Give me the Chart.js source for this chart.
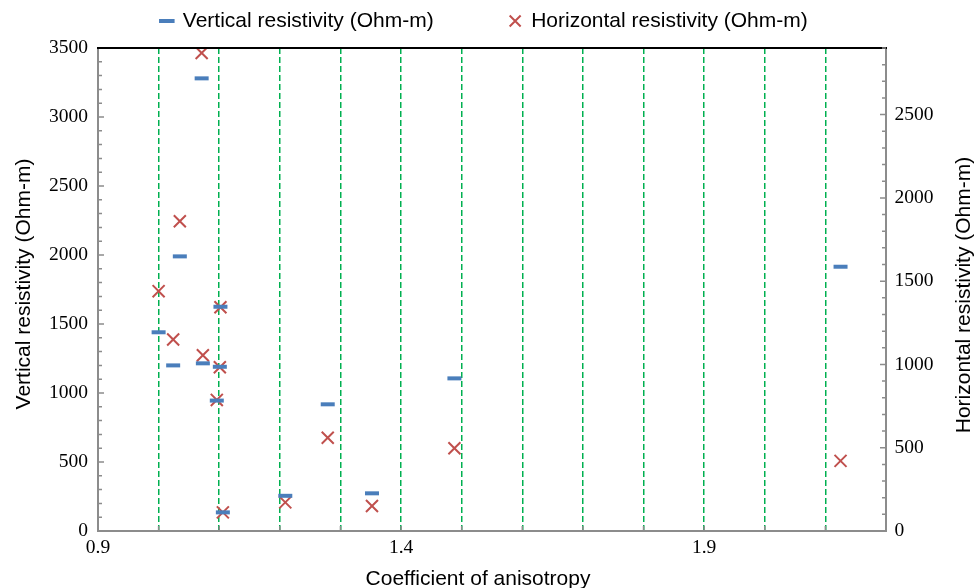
<!DOCTYPE html>
<html>
<head>
<meta charset="utf-8">
<script src="https://cdn.jsdelivr.net/npm/chart.js@4.4.0/dist/chart.umd.min.js"></script>
<style>
html,body{margin:0;padding:0;background:#fff;}
canvas{display:block;}
</style>
</head>
<body>
<canvas id="c" width="979" height="588"></canvas>
<script>
// ---- data ----
const coefficient   = [1.00, 1.024, 1.035, 1.071, 1.073, 1.102, 1.101, 1.096, 1.106, 1.209, 1.279, 1.352, 1.488, 2.125];
const verticalRes   = [1440, 1200, 1990, 3280, 1215, 1625, 1190, 945, 135, 255, 918, 273, 1106, 1915];
const horizontalRes = [1440, 1150, 1860, 2870, 1055, 1343, 983, 787, 112, 172, 560, 150, 497, 421];

const seriesNames = ['Vertical resistivity (Ohm-m)', 'Horizontal resistivity (Ohm-m)'];
const xTitle = 'Coefficient of anisotropy';
const yTitle = 'Vertical resistivity (Ohm-m)';
const y1Title = 'Horizontal resistivity (Ohm-m)';

const xTickValues = [0.9, 1.0, 1.1, 1.2, 1.3, 1.4, 1.5, 1.6, 1.7, 1.8, 1.9, 2.0, 2.1, 2.2];
const xLabelValues = [0.9, 1.4, 1.9];
const leftTickValues = [0, 500, 1000, 1500, 2000, 2500, 3000, 3500];
const rightTickValues = [0, 500, 1000, 1500, 2000, 2500];

const SANS = '"Liberation Sans", Arial, sans-serif';
const SERIF = '"Liberation Serif", "Times New Roman", serif';
const AXIS_GREY = '#8c8c8c';

const decor = {
  id: 'decor',
  beforeLayout(chart) {
    const lg = chart.legend;
    if (lg && !lg._fixed) {
      const f = lg.fit;
      lg.fit = function () { f.call(this); this.height = 48; };
      lg._fixed = true;
    }
  },
  afterLayout(chart) {
    const lg = chart.legend;
    if (!lg) return;
    const P = lg.options.labels.padding;
    const fs = lg.options.labels.font.size;
    const top = 21 - P - fs / 2;
    lg.top = top; lg.bottom = 48; lg.height = lg.bottom - lg.top;
    lg.left -= 5; lg.right -= 5;
  },
  afterDraw(chart) {
    const { ctx, chartArea: a, scales } = chart;
    ctx.save();
    // top frame line
    ctx.strokeStyle = '#000'; ctx.lineWidth = 2;
    ctx.beginPath(); ctx.moveTo(a.left - 1, a.top); ctx.lineTo(a.right + 1, a.top); ctx.stroke();
    // inner tick marks
    ctx.strokeStyle = AXIS_GREY; ctx.lineWidth = 1.5;
    const yl = scales.y, yr = scales.y1, xs = scales.x;
    ctx.beginPath();
    for (let v = 100; v < yl.max; v += 100) {
      const py = yl.getPixelForValue(v), len = v % 500 === 0 ? 6 : 4;
      ctx.moveTo(a.left, py); ctx.lineTo(a.left + len, py);
    }
    for (let v = 100; v <= yr.max; v += 100) {
      const py = yr.getPixelForValue(v), len = v % 500 === 0 ? 6 : 4;
      ctx.moveTo(a.right, py); ctx.lineTo(a.right - len, py);
    }
    xTickValues.slice(1, -1).forEach(v => {
      const px = xs.getPixelForValue(v);
      ctx.moveTo(px, a.bottom); ctx.lineTo(px, a.bottom - 5);
    });
    ctx.stroke();
    // axis titles
    ctx.fillStyle = '#000';
    ctx.font = '21px ' + SANS;
    ctx.textAlign = 'center'; ctx.textBaseline = 'alphabetic';
    ctx.fillText(xTitle, 478, 585);
    ctx.save(); ctx.translate(30, 284); ctx.rotate(-Math.PI / 2); ctx.fillText(yTitle, 0, 0); ctx.restore();
    ctx.save(); ctx.translate(970, 295); ctx.rotate(-Math.PI / 2); ctx.fillText(y1Title, 0, 0); ctx.restore();
    ctx.restore();
  }
};

const near = (a, b) => Math.abs(a - b) < 1e-9;

new Chart(document.getElementById('c'), {
  type: 'scatter',
  data: {
    datasets: [
      {
        label: seriesNames[0],
        data: coefficient.map((c, i) => ({ x: c, y: verticalRes[i] })),
        yAxisID: 'y',
        pointStyle: 'line',
        pointRadius: 7, pointHoverRadius: 7,
        pointBorderWidth: 4, borderWidth: 4,
        borderColor: '#4a7ebb', backgroundColor: '#4a7ebb',
        showLine: false
      },
      {
        label: seriesNames[1],
        data: coefficient.map((c, i) => ({ x: c, y: horizontalRes[i] })),
        yAxisID: 'y1',
        pointStyle: 'crossRot',
        pointRadius: 8.5, pointHoverRadius: 8.5,
        pointBorderWidth: 2, borderWidth: 2,
        borderColor: '#c0504d', backgroundColor: '#c0504d',
        showLine: false
      }
    ]
  },
  options: {
    responsive: false,
    animation: false,
    layout: { padding: 0 },
    plugins: {
      legend: {
        position: 'top',
        labels: {
          usePointStyle: true, boxWidth: 11, boxHeight: 11, padding: 76,
          font: { family: SANS, size: 21 }, color: '#000'
        }
      },
      tooltip: { enabled: false },
      title: { display: false }
    },
    scales: {
      x: {
        type: 'linear', position: 'bottom', min: 0.9, max: 2.2,
        afterBuildTicks: s => { s.ticks = xTickValues.map(v => ({ value: v })); },
        afterFit: s => { s.height = 57; },
        ticks: {
          autoSkip: false, maxRotation: 0, minRotation: 0, padding: 5,
          font: { family: SERIF, size: 19.5 }, color: '#000',
          callback: v => xLabelValues.some(l => near(l, v)) ? v.toFixed(1) : ''
        },
        grid: {
          display: true, drawOnChartArea: true, drawTicks: false, lineWidth: 1.5,
          color: c => (c.tick && (near(c.tick.value, 0.9) || near(c.tick.value, 2.2))) ? 'rgba(0,0,0,0)' : '#00b050'
        },
        border: { display: true, color: AXIS_GREY, width: 2, dash: [6, 3] },
        title: { display: false }
      },
      y: {
        type: 'linear', position: 'left', min: 0, max: 3500,
        afterBuildTicks: s => { s.ticks = leftTickValues.map(v => ({ value: v })); },
        afterFit: s => { s.width = 98; },
        ticks: { padding: 10, font: { family: SERIF, size: 19.5 }, color: '#000', callback: v => String(v) },
        grid: { display: false, drawTicks: false },
        border: { display: true, color: AXIS_GREY, width: 2 },
        title: { display: false }
      },
      y1: {
        type: 'linear', position: 'right', min: 0, max: 2900,
        afterBuildTicks: s => { s.ticks = rightTickValues.map(v => ({ value: v })); },
        afterFit: s => { s.width = 93; },
        ticks: { padding: 8.5, font: { family: SERIF, size: 19.5 }, color: '#000', callback: v => String(v) },
        grid: { display: false, drawTicks: false },
        border: { display: true, color: AXIS_GREY, width: 2 },
        title: { display: false }
      }
    }
  },
  plugins: [decor]
});
</script>
</body>
</html>
